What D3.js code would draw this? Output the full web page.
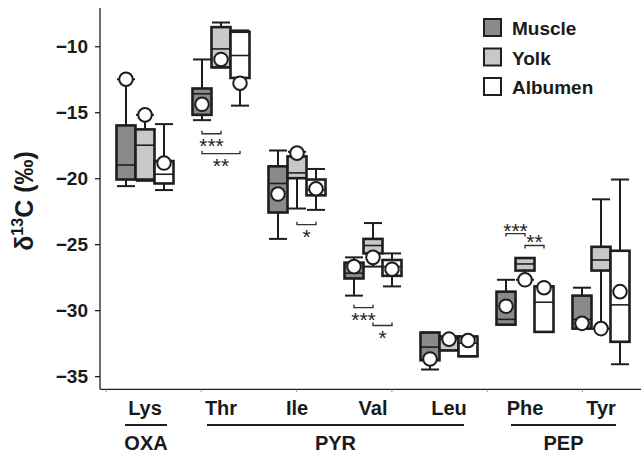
<!DOCTYPE html>
<html><head><meta charset="utf-8">
<script src="https://cdn.jsdelivr.net/npm/d3@7"></script>
<style>
body{margin:0;background:#fff;}
text{font-family:"Liberation Sans",Arial,sans-serif;}
</style></head>
<body><svg id="c" width="641" height="454"></svg>
<script>
const categories = ["Lys","Thr","Ile","Val","Leu","Phe","Tyr"];
const series = ["Muscle","Yolk","Albumen"];
const seriesFill = ["#8a8a8a","#c8c8c8","#ffffff"];
const groups = [
  {name:"OXA", from:"Lys", to:"Lys"},
  {name:"PYR", from:"Thr", to:"Leu"},
  {name:"PEP", from:"Phe", to:"Tyr"}
];
const yTicks = [-10,-15,-20,-25,-30,-35];
// box stats per series: [whiskerLow, q1, median, q3, whiskerHigh, circle]
const muscle = [
  [-20.6,-20.1,-19.0,-16.0,-12.5,-12.5],
  [-15.6,-15.2,-13.6,-13.2,-11.0,-14.4],
  [-24.6,-22.6,-20.4,-19.1,-17.9,-21.2],
  [-28.9,-27.6,-27.2,-26.4,-26.0,-26.7],
  [-34.5,-33.8,-32.8,-31.7,-31.7,-33.7],
  [-31.1,-31.1,-30.7,-28.6,-27.7,-29.7],
  [-31.4,-31.4,-30.7,-28.9,-28.3,-31.0]
];
const yolk = [
  [-20.2,-20.1,-17.5,-16.3,-15.2,-15.2],
  [-11.6,-11.6,-10.2,-8.55,-8.2,-11.0],
  [-22.3,-20.0,-19.6,-18.35,-18.0,-18.1],
  [-26.7,-25.7,-25.1,-24.6,-23.4,-26.0],
  [-33.05,-33.05,-32.2,-32.0,-32.0,-32.2],
  [-27.7,-27.0,-26.5,-26.05,-26.05,-27.7],
  [-31.4,-27.0,-26.2,-25.2,-21.6,-31.4]
];
const albumen = [
  [-20.9,-20.4,-19.7,-18.7,-15.9,-18.85],
  [-14.5,-12.4,-10.7,-8.9,-8.8,-12.8],
  [-22.4,-21.3,-20.9,-20.1,-19.3,-20.8],
  [-28.2,-27.4,-26.7,-26.2,-25.7,-26.9],
  [-33.5,-33.5,-32.5,-32.0,-32.0,-32.3],
  [-31.65,-31.65,-29.4,-28.2,-28.2,-28.3],
  [-34.1,-32.4,-29.6,-25.5,-20.1,-28.6]
];
// significance: category, seriesA, seriesB, value, label, direction (1: ticks up, text below; -1: ticks down, text above)
const sigCat = ["Thr","Thr","Ile","Val","Val","Phe","Phe"];
const sigA = ["Muscle","Muscle","Yolk","Muscle","Yolk","Muscle","Yolk"];
const sigB = ["Yolk","Albumen","Albumen","Yolk","Albumen","Yolk","Albumen"];
const sigY = [-16.63,-18.14,-23.52,-29.81,-31.17,-24.2,-25.1];
const sigLabel = ["***","**","*","***","*","***","**"];
const sigDir = [1,1,1,1,1,-1,-1];

const svg = d3.select("#c");
const stroke = "#1e1e1e";
const y = d3.scaleLinear().domain([-36,-7.1]).range([389.3,8]);
const x = d3.scaleBand().domain(categories).range([107,639]).padding(0);
const xs = d3.scaleBand().domain(series).range([9.5,66.5]).padding(0);
const fill = d3.scaleOrdinal().domain(series).range(seriesFill);
const data = {Muscle:muscle, Yolk:yolk, Albumen:albumen};

// axes
const yAxis = d3.axisLeft(y).tickValues(yTicks).tickSize(5).tickPadding(7).tickFormat(d3.format("d"));
const ga = svg.append("g").attr("transform","translate(100,0)").call(yAxis);
ga.select(".domain").attr("stroke",stroke).attr("stroke-width",1.3).attr("d","M0,8V389.3");
ga.selectAll(".tick line").attr("stroke",stroke).attr("stroke-width",1.3);
ga.selectAll(".tick text").attr("font-size",19).attr("font-weight","bold").attr("fill","#1a1a1a")
  .attr("font-family","Liberation Sans, Arial, sans-serif");

// x axis line
const xMinor = d3.scaleLinear().domain([0,6]).range([106,106+95.3*6]);
svg.append("line").attr("x1",100).attr("x2",641).attr("y1",y(-36)).attr("y2",y(-36))
  .attr("stroke",stroke).attr("stroke-width",1.3);
svg.selectAll(".mt").data(d3.range(0,6)).join("line").attr("class","mt")
  .attr("x1",d=>xMinor(d)).attr("x2",d=>xMinor(d)).attr("y1",y(-36)).attr("y2",y(-36)+2.5)
  .attr("stroke","#888").attr("stroke-width",1);

// category labels
svg.selectAll(".cl").data(categories).join("text").attr("class","cl")
  .attr("x",d=>x(d)+x.bandwidth()/2).attr("y",415).attr("text-anchor","middle")
  .attr("font-size",20).attr("font-weight","bold").attr("fill","#1a1a1a").text(d=>d);
// group lines and labels
groups.forEach(g=>{
  const single = g.from===g.to;
  const x1 = x(g.from)+x.bandwidth()/2-(single?20:14), x2 = x(g.to)+x.bandwidth()/2+(single?22:15);
  svg.append("line").attr("x1",x1).attr("x2",x2)
    .attr("y1",425).attr("y2",425).attr("stroke",stroke).attr("stroke-width",2);
  svg.append("text").attr("x",(x1+x2)/2).attr("y",450).attr("text-anchor","middle")
    .attr("font-size",20).attr("font-weight","bold").attr("fill","#1a1a1a").text(g.name);
});

// boxes
series.forEach(s=>{
  const g = svg.append("g");
  data[s].forEach((d,i)=>{
    const cx = x(categories[i]) + xs(s) + xs.bandwidth()/2;
    const w = xs.bandwidth();
    const [lo,q1,med,q3,hi,pt] = d;
    g.append("line").attr("x1",cx).attr("x2",cx).attr("y1",y(hi)).attr("y2",y(q3)).attr("stroke",stroke).attr("stroke-width",2);
    g.append("line").attr("x1",cx).attr("x2",cx).attr("y1",y(q1)).attr("y2",y(lo)).attr("stroke",stroke).attr("stroke-width",2);
    g.append("line").attr("x1",cx-w/2+0.5).attr("x2",cx+w/2-0.5).attr("y1",y(hi)).attr("y2",y(hi)).attr("stroke",stroke).attr("stroke-width",2);
    g.append("line").attr("x1",cx-w/2+0.5).attr("x2",cx+w/2-0.5).attr("y1",y(lo)).attr("y2",y(lo)).attr("stroke",stroke).attr("stroke-width",2);
    g.append("rect").attr("x",cx-w/2).attr("width",w).attr("y",y(q3)).attr("height",Math.max(1,y(q1)-y(q3)))
      .attr("fill",fill(s)).attr("stroke",stroke).attr("stroke-width",2.6);
    g.append("line").attr("x1",cx-w/2).attr("x2",cx+w/2).attr("y1",y(med)).attr("y2",y(med)).attr("stroke",stroke).attr("stroke-width",1.6);
  });
});
// circles on top
series.forEach(s=>{
  data[s].forEach((d,i)=>{
    const cx = x(categories[i]) + xs(s) + xs.bandwidth()/2;
    svg.append("circle").attr("cx",cx).attr("cy",y(d[5])).attr("r",6.8)
      .attr("fill","#fff").attr("stroke",stroke).attr("stroke-width",2);
  });
});

// significance brackets
sigCat.forEach((c,i)=>{
  const xa = x(c)+xs(sigA[i])+xs.bandwidth()/2, xb = x(c)+xs(sigB[i])+xs.bandwidth()/2;
  const yy = y(sigY[i]), dir = sigDir[i];
  svg.append("path").attr("d",`M${xa},${yy-3*dir}V${yy}H${xb}V${yy-3*dir}`)
    .attr("fill","none").attr("stroke","#333").attr("stroke-width",1.4);
  svg.append("text").attr("x",(xa+xb)/2).attr("y",dir>0?yy+19:yy+4).attr("text-anchor","middle")
    .attr("font-size",21).attr("fill","#222").text(sigLabel[i]);
});

// legend
const lg = svg.append("g");
series.forEach((s,i)=>{
  lg.append("rect").attr("x",484).attr("y",19+i*29.5).attr("width",17).attr("height",17)
    .attr("fill",fill(s)).attr("stroke",stroke).attr("stroke-width",2);
  lg.append("text").attr("x",512).attr("y",35+i*29.5).attr("font-size",19).attr("font-weight","bold")
    .attr("fill","#1a1a1a").text(s);
});

// y title
const yt = svg.append("text").attr("transform","translate(33,201) rotate(-90)").attr("text-anchor","middle")
  .attr("font-size",25).attr("font-weight","bold").attr("fill","#1a1a1a");
yt.append("tspan").text("δ");
yt.append("tspan").attr("font-size",16).attr("dy",-10).text("13");
yt.append("tspan").attr("dy",10).text("C (‰)");
</script></body></html>
